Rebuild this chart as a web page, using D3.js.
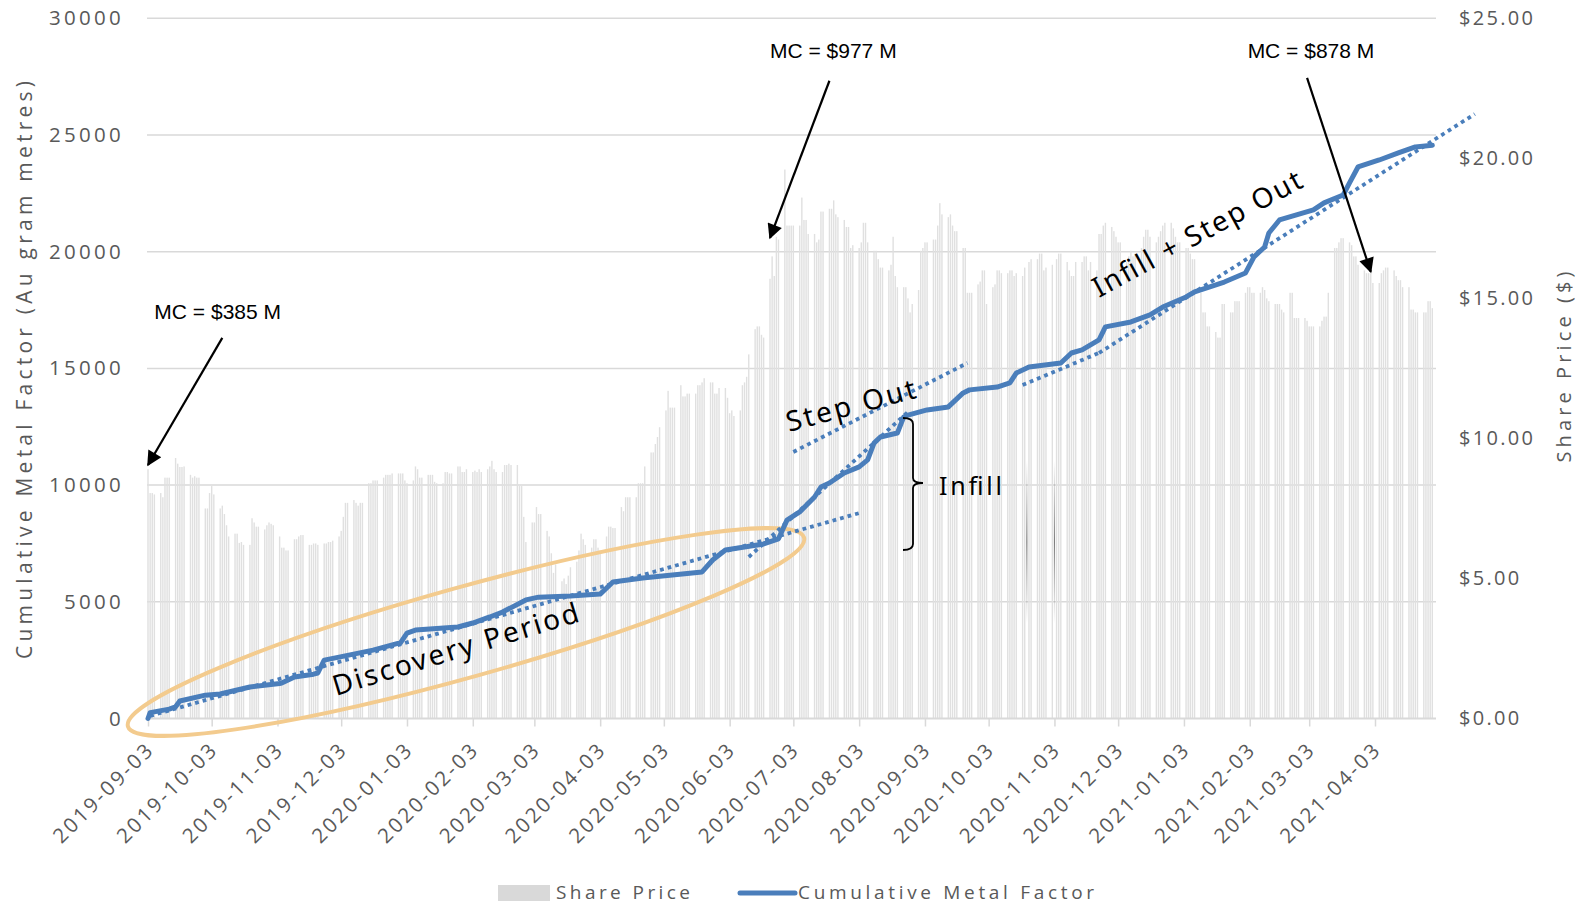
<!DOCTYPE html>
<html><head><meta charset="utf-8">
<script src="https://cdn.jsdelivr.net/npm/d3@7"></script>
<style>body{margin:0;background:#fff}svg{display:block}</style>
</head><body>
<svg id="chart" width="1578" height="904"></svg>
<script>
// ---------------- DATA ----------------
const tickLabels = ["2019-09-03","2019-10-03","2019-11-03","2019-12-03","2020-01-03","2020-02-03","2020-03-03","2020-04-03","2020-05-03","2020-06-03","2020-07-03","2020-08-03","2020-09-03","2020-10-03","2020-11-03","2020-12-03","2021-01-03","2021-02-03","2021-03-03","2021-04-03"];
const leftTicks = [0,5000,10000,15000,20000,25000,30000];
const rightTicks = [0,5,10,15,20,25];

// Share price, one value per weekday of each month (null = no bar)
const price_2019_09 = [8.9,8.05,8.05,8.0,8.05,7.9,8.6,8.6,8.6,9.3,9.1,8.98,8.98,9.0,8.7,8.6,8.65,8.6,8.6,7.5];
const price_2019_10 = [7.5,8.05,8.3,8.0,7.5,7.6,7.3,6.9,6.5,6.6,6.6,6.27,6.3,6.2,6.2,7.15,7.0,6.85,6.85,6.75,6.9,7.0,6.95];
const price_2019_11 = [6.9,6.5,6.1,6.1,6.0,6.0,6.4,6.4,6.5,6.55,6.55,6.2,6.2,6.25,6.25,6.2,6.25,6.25,6.3,6.3,6.35];
const price_2019_12 = [6.5,6.7,7.2,7.7,7.7,7.8,7.7,7.6,7.7,7.7,8.4,8.4,8.5,8.5,8.5,8.6,8.7,8.7,8.7,8.75,8.75,8.75];
const price_2020_01 = [8.75,8.5,8.4,8.5,9.0,8.9,8.6,8.6,8.7,8.7,8.7,8.45,8.4,8.4,8.8,8.8,8.75,8.75,9.0,9.0,8.8,8.8,8.9];
const price_2020_02 = [8.8,8.85,8.8,8.9,8.8,8.9,9.0,9.2,8.9,8.8,8.8,9.05,9.05,9.1,9.05,9.05,8.3,8.3,7.2,6.3];
const price_2020_03 = [7.0,7.0,7.55,7.3,7.3,6.7,6.5,5.9,5.2,5.5,4.9,5.0,4.8,5.1,5.4,5.6,6.0,6.6,6.4,6.2,6.1,6.4];
const price_2020_04 = [6.4,6.1,6.0,6.5,6.85,6.85,6.8,6.8,7.55,7.4,7.9,7.9,7.9,7.9,8.4,8.4,8.4,9.0,9.5,9.5,9.8,10.05];
const price_2020_05 = [10.4,11.0,11.7,11.1,11.1,11.1,11.9,11.5,11.5,11.6,11.6,11.6,11.9,11.9,12.0,12.15,12.0,12.0,11.6,11.6,11.8];
const price_2020_06 = [11.8,11.45,10.9,11.0,10.8,11.0,11.9,12.0,12.2,13.0,13.9,14.0,14.0,13.7,13.6,15.7,16.5,15.8,17.2,17.1,19.6,17.6];
const price_2020_07 = [17.6,17.6,17.6,17.6,18.6,17.8,17.8,17.3,17.3,17.0,17.1,18.1,18.1,18.2,18.2,18.5,18.0,17.9,17.8,17.55,17.55,16.8,16.9];
const price_2020_08 = [16.8,17.0,17.7,17.7,17.0,16.7,16.7,16.4,16.1,16.1,16.0,16.2,17.2,15.8,15.4,15.4,15.4,15.0,14.5,14.8,15.3];
const price_2020_09 = [16.7,16.8,17.0,17.0,17.1,17.1,17.6,18.4,18.0,17.9,18.0,17.6,17.4,17.4,16.8,16.8,15.2,15.2,15.2,15.5,15.6,16.0];
const price_2020_10 = [16.0,14.8,15.4,15.5,16.0,16.0,15.9,15.9,16.0,16.0,15.8,15.9,15.8,16.1,null,16.3,16.4,16.4,16.6,16.6,16.0,16.1];
const price_2020_11 = [16.2,null,16.4,16.6,16.6,16.3,16.0,15.8,15.8,16.3,16.3,16.5,16.5,16.0,16.3,16.0,17.3,17.3,17.6,17.7,17.55];
const price_2020_12 = [17.4,17.2,17.0,17.0,16.3,16.5,16.7,16.5,16.6,16.8,17.2,17.45,17.45,17.2,17.0,17.2,17.4,17.6,17.7,17.7,17.5,17.2,17.0];
const price_2021_01 = [17.0,16.8,16.8,16.6,16.4,16.4,15.2,14.5,14.5,14.0,14.0,13.8,13.6,13.6,14.8,14.8,14.5,14.5,14.9,14.9,14.9];
const price_2021_02 = [15.2,15.4,15.4,15.2,15.2,15.2,15.4,15.3,15.0,14.9,14.8,14.8,14.8,14.6,14.5,15.2,15.2,14.3,14.3,14.3];
const price_2021_03 = [14.3,14.2,14.0,14.0,14.0,14.0,14.2,14.35,14.35,15.2,16.8,16.8,17.0,17.15,17.15,17.0,16.9,16.5,16.5,16.2,16.0,15.9,15.9];
const price_2021_04 = [15.9,15.55,15.55,15.9,16.0,16.1,16.1,16.0,15.8,15.65,15.65,15.4,15.4,14.6,14.6,14.5,14.5,14.5,14.5,14.9,14.9,14.65];

const priceMonths = [
  ["2019-09-03", price_2019_09], ["2019-10-01", price_2019_10], ["2019-11-01", price_2019_11],
  ["2019-12-01", price_2019_12], ["2020-01-01", price_2020_01], ["2020-02-01", price_2020_02],
  ["2020-03-01", price_2020_03], ["2020-04-01", price_2020_04], ["2020-05-01", price_2020_05],
  ["2020-06-01", price_2020_06], ["2020-07-01", price_2020_07], ["2020-08-01", price_2020_08],
  ["2020-09-01", price_2020_09], ["2020-10-01", price_2020_10], ["2020-11-01", price_2020_11],
  ["2020-12-01", price_2020_12], ["2021-01-01", price_2021_01], ["2021-02-01", price_2021_02],
  ["2021-03-01", price_2021_03], ["2021-04-01", price_2021_04]
];

// Cumulative metal factor (Au gram metres)
const mfDates = ["2019-09-03","2019-09-04","2019-09-13","2019-09-16","2019-09-18","2019-09-30","2019-10-07","2019-10-21","2019-11-04","2019-11-05","2019-11-11","2019-11-20","2019-11-22","2019-11-25","2019-12-02","2019-12-18","2019-12-31","2020-01-03","2020-01-07","2020-01-27","2020-02-03","2020-02-11","2020-02-17","2020-02-28","2020-03-05","2020-03-20","2020-04-03","2020-04-09","2020-04-23","2020-05-21","2020-05-26","2020-06-01","2020-06-19","2020-06-26","2020-06-30","2020-07-06","2020-07-13","2020-07-16","2020-07-20","2020-07-27","2020-08-03","2020-08-07","2020-08-10","2020-08-13","2020-08-21","2020-08-24","2020-08-26","2020-09-04","2020-09-14","2020-09-21","2020-09-24","2020-10-07","2020-10-13","2020-10-16","2020-10-22","2020-11-06","2020-11-11","2020-11-16","2020-11-24","2020-11-27","2020-12-09","2020-12-18","2020-12-24","2021-01-04","2021-01-08","2021-01-22","2021-02-01","2021-02-05","2021-02-10","2021-02-12","2021-02-17","2021-02-25","2021-03-05","2021-03-10","2021-03-19","2021-03-22","2021-03-26","2021-04-05","2021-04-14","2021-04-22","2021-04-30"];
const mfValues = [0,250,400,500,750,1000,1050,1350,1500,1520,1780,1900,1950,2500,2630,2930,3250,3660,3790,3920,4090,4350,4560,5080,5200,5250,5330,5850,6020,6280,6790,7220,7480,7700,8500,8850,9490,9920,10090,10520,10780,11080,11800,12060,12230,12920,13000,13220,13350,13950,14080,14200,14380,14800,15060,15230,15660,15790,16220,16780,16990,17290,17630,18060,18280,18700,19090,19780,20200,20800,21360,21580,21790,22090,22430,22950,23630,23930,24230,24490,24560];

// Dotted trend lines: [startDate, startValue, endDate, endValue]
const trendDiscovery = ["2019-09-04", 110, "2020-08-03", 8800];
const trendInfill    = ["2020-06-12", 6920, "2020-08-27", 13220];
const trendStepOut   = ["2020-07-03", 11420, "2020-09-23", 15230];
const trendShort     = ["2020-10-19", 14290, "2020-11-25", 15700];
const trendLong      = ["2020-11-24", 15660, "2021-05-20", 25900];
const trends = [trendDiscovery, trendInfill, trendStepOut, trendShort, trendLong];

// Market-cap annotations: [label, labelDate, label price level, arrow start date, start $, arrow tip date, tip $]
const mcNotes = [
  ["MC = $385 M", "2019-09-06", 14.25, "2019-10-08", 13.59, "2019-09-03", 9.05],
  ["MC = $977 M", "2020-06-22", 23.6,  "2020-07-20", 22.77, "2020-06-22", 17.16],
  ["MC = $878 M", "2021-02-02", 23.6,  "2021-03-02", 22.87, "2021-04-01", 15.95]
];

// ---------------- CHART ----------------
const svg = d3.select("#chart");
const parse = d3.utcParse("%Y-%m-%d");
const L = 147, R = 1436, T = 18.3, B = 718.5;

const x = d3.scaleUtc().domain([parse("2019-09-03"), parse("2021-04-03")]).range([148, 1375]);
const yL = d3.scaleLinear().domain([0, 30000]).range([B, T]);
const yR = d3.scaleLinear().domain([0, 25]).range([B, T]);

const grey = "#595959";
const axisFont = "'Open Sans', 'Noto Sans', sans-serif";

// gridlines
svg.append("g").selectAll("line").data(leftTicks.filter(d => d > 0)).join("line")
  .attr("x1", L).attr("x2", R).attr("y1", d => yL(d)).attr("y2", d => yL(d))
  .attr("stroke", "#d9d9d9").attr("stroke-width", 1.5);

// bars
const bars = [];
priceMonths.forEach(([start, vals]) => {
  let d = parse(start); const m = d.getUTCMonth(); let i = 0;
  while (d.getUTCMonth() === m && i < vals.length) {
    const wd = d.getUTCDay();
    if (wd !== 0 && wd !== 6) { if (vals[i] != null) bars.push({ date: new Date(d), price: vals[i] }); i++; }
    d = d3.utcDay.offset(d, 1);
  }
});
svg.append("g").selectAll("rect").data(bars).join("rect")
  .attr("x", d => x(d.date) - 0.7).attr("width", 1.4)
  .attr("y", d => yR(d.price)).attr("height", d => B - yR(d.price))
  .attr("fill", "#e0e0e0");

// faint dark streak artefacts seen in the original picture
const grad = svg.append("defs").append("linearGradient").attr("id", "streak").attr("x1", 0).attr("x2", 0).attr("y1", 0).attr("y2", 1);
grad.append("stop").attr("offset", "0").attr("stop-color", "#666").attr("stop-opacity", 0);
grad.append("stop").attr("offset", "0.5").attr("stop-color", "#666").attr("stop-opacity", 0.85);
grad.append("stop").attr("offset", "1").attr("stop-color", "#666").attr("stop-opacity", 0);
svg.append("g").selectAll("rect").data(["2020-10-21", "2020-11-03"]).join("rect")
  .attr("x", d => x(parse(d)) - 0.6).attr("width", 1.2)
  .attr("y", yR(9.2)).attr("height", yR(3.4) - yR(9.2)).attr("fill", "url(#streak)");

// x axis
const tickDates = tickLabels.map(parse);
const gx = svg.append("g").attr("transform", `translate(0,${B})`)
  .call(d3.axisBottom(x).tickValues(tickDates).tickFormat((d, i) => tickLabels[i]).tickSize(8).tickSizeOuter(0));
gx.select(".domain").attr("stroke", "#d9d9d9").attr("stroke-width", 2).attr("d", `M${L},0H${R}`);
gx.selectAll(".tick line").attr("stroke", "#d9d9d9").attr("stroke-width", 1.5);
gx.selectAll(".tick text")
  .attr("x", 0).attr("y", 0).attr("dy", "0.35em")
  .attr("transform", "translate(2,27) rotate(-45)")
  .attr("text-anchor", "end")
  .attr("fill", grey).style("font-family", axisFont).style("font-size", "20.5px").style("letter-spacing", "2.6px");

// left axis
const gl = svg.append("g").attr("transform", `translate(${L},0)`)
  .call(d3.axisLeft(yL).tickValues(leftTicks).tickFormat(d => String(d)).tickSize(0).tickPadding(23));
gl.select(".domain").remove();
gl.selectAll(".tick text").attr("fill", grey).style("font-family", axisFont).style("font-size", "20.5px").style("letter-spacing", "3.3px");

// right axis
const gr = svg.append("g").attr("transform", `translate(${R},0)`)
  .call(d3.axisRight(yR).tickValues(rightTicks).tickFormat(d => "$" + d.toFixed(2)).tickSize(0).tickPadding(23));
gr.select(".domain").remove();
gr.selectAll(".tick text").attr("fill", grey).style("font-family", axisFont).style("font-size", "20px").style("letter-spacing", "2.3px");

// axis titles
svg.append("text").attr("transform", "translate(24,370) rotate(-90)")
  .attr("text-anchor", "middle").attr("dominant-baseline", "central")
  .attr("textLength", 578).attr("lengthAdjust", "spacing")
  .attr("fill", grey).style("font-family", axisFont).style("font-size", "21px")
  .text("Cumulative Metal Factor (Au gram metres)");
svg.append("text").attr("transform", "translate(1563,367) rotate(-90)")
  .attr("text-anchor", "middle").attr("dominant-baseline", "central")
  .attr("textLength", 191).attr("lengthAdjust", "spacing")
  .attr("fill", grey).style("font-family", axisFont).style("font-size", "20px")
  .text("Share Price ($)");

// ellipse around discovery period
svg.append("ellipse").attr("cx", 466).attr("cy", 632).attr("rx", 351).attr("ry", 45)
  .attr("transform", "rotate(-15.6,466,632)")
  .attr("fill", "none").attr("stroke", "#f3cb8e").attr("stroke-width", 4);

// trend lines
svg.append("g").selectAll("line").data(trends).join("line")
  .attr("x1", d => x(parse(d[0]))).attr("y1", d => yL(d[1]))
  .attr("x2", d => x(parse(d[2]))).attr("y2", d => yL(d[3]))
  .attr("stroke", "#4a7ebb").attr("stroke-width", 3.8).attr("stroke-dasharray", "3.8 4");

// metal factor line
const mf = mfDates.map((d, i) => ({ date: parse(d), v: mfValues[i] }));
svg.append("path").datum(mf)
  .attr("d", d3.line().x(d => x(d.date)).y(d => yL(d.v)))
  .attr("fill", "none").attr("stroke", "#4a7ebb").attr("stroke-width", 5)
  .attr("stroke-linejoin", "round").attr("stroke-linecap", "round");

// annotations: MC labels + arrows
const defs = svg.append("defs");
defs.append("marker").attr("id", "ah").attr("viewBox", "0 0 10 10").attr("refX", 9).attr("refY", 5)
  .attr("markerWidth", 17).attr("markerHeight", 15).attr("markerUnits", "userSpaceOnUse")
  .attr("orient", "auto").append("path").attr("d", "M0,0L10,5L0,10Z").attr("fill", "#000");

const gn = svg.append("g");
mcNotes.forEach(n => {
  gn.append("text").attr("x", x(parse(n[1]))).attr("y", yR(n[2]))
    .style("font-family", "'Liberation Sans', Arial, sans-serif").style("font-size", "21px")
    .attr("fill", "#000").text(n[0]);
  gn.append("line").attr("x1", x(parse(n[3]))).attr("y1", yR(n[4]))
    .attr("x2", x(parse(n[5]))).attr("y2", yR(n[6]))
    .attr("stroke", "#000").attr("stroke-width", 2.2).attr("marker-end", "url(#ah)");
});

// rotated annotation texts
const annFont = "'Noto Sans', 'Open Sans', sans-serif";
function rotText(txt, px, py, ang, len, size) {
  svg.append("text").attr("transform", `translate(${px},${py}) rotate(${ang})`)
    .attr("textLength", len).attr("lengthAdjust", "spacing")
    .style("font-family", annFont).style("font-size", size + "px").attr("fill", "#000").text(txt);
}
rotText("Discovery Period", 336, 696, -17, 256, 28);
rotText("Step Out", 789, 432, -15, 133, 28);
rotText("Infill + Step Out", 1099, 298, -28.5, 234, 28);

svg.append("text").attr("x", 939).attr("y", 495).attr("textLength", 63).attr("lengthAdjust", "spacing")
  .style("font-family", annFont).style("font-size", "25px").attr("fill", "#000").text("Infill");

// bracket
svg.append("path")
  .attr("d", "M903,418 Q913,418 913,424 L913,478 Q913,483 923,483 Q913,483 913,488 L913,544 Q913,550 903,550")
  .attr("fill", "none").attr("stroke", "#000").attr("stroke-width", 1.8);

// legend
const lg = svg.append("g");
lg.append("rect").attr("x", 498).attr("y", 885).attr("width", 52).attr("height", 16).attr("fill", "#d9d9d9");
lg.append("text").attr("x", 556).attr("y", 899).attr("textLength", 134).attr("lengthAdjust", "spacing")
  .attr("fill", grey).style("font-family", axisFont).style("font-size", "19px").text("Share Price");
lg.append("line").attr("x1", 740).attr("x2", 795).attr("y1", 893).attr("y2", 893)
  .attr("stroke", "#4a7ebb").attr("stroke-width", 5).attr("stroke-linecap", "round");
lg.append("text").attr("x", 798).attr("y", 899).attr("textLength", 296).attr("lengthAdjust", "spacing")
  .attr("fill", grey).style("font-family", axisFont).style("font-size", "19px").text("Cumulative Metal Factor");
</script>
</body></html>
